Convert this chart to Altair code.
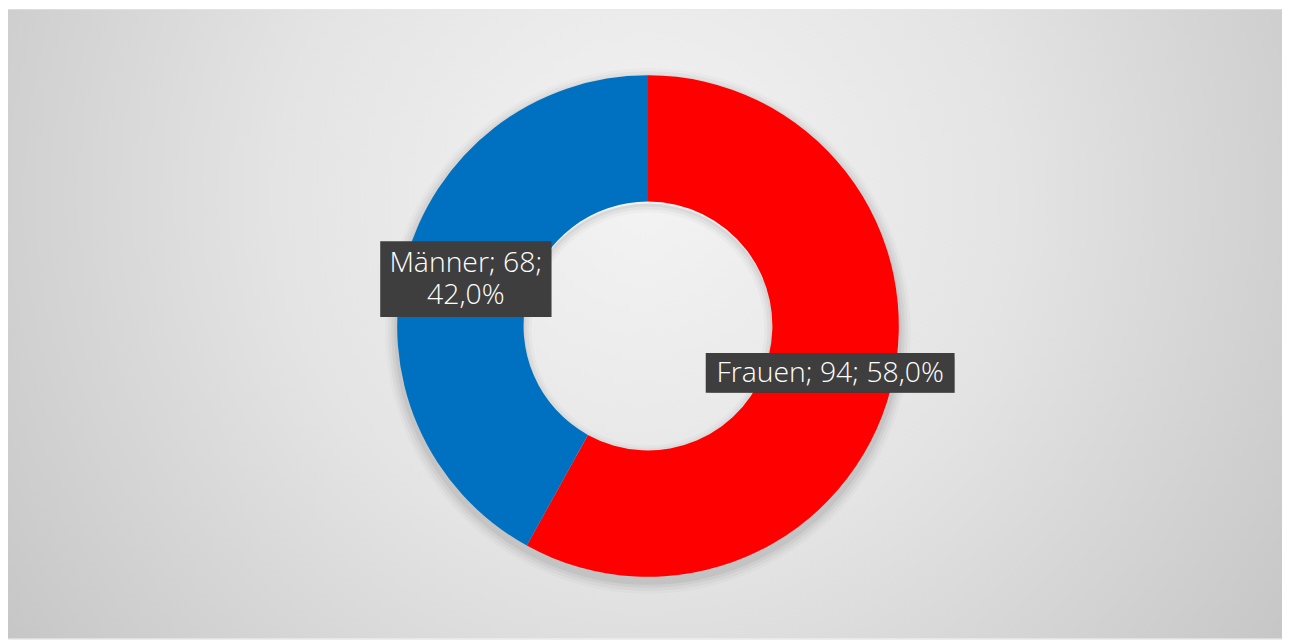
import math
import altair as alt
import pandas as pd

# ---- data ----
categories = ["Frauen", "Männer"]
values = [94, 68]
colors = ["#FF0000", "#0070C0"]

total = sum(values)
pct = [f"{v / total * 100:.1f}".replace(".", ",") + "%" for v in values]
labels = [
    [f"{categories[0]}; {values[0]}; {pct[0]}"],
    [f"{categories[1]}; {values[1]};", pct[1]],
]

# ---- layout / style constants ----
W, H = 1280, 632
CX, CY = 643, 318
R_OUT, R_IN = 252, 125
R_LABEL = 189
LINE_H = 32
box_size = {"Frauen": (250, 40), "Männer": (172, 76)}
FULL = 2 * math.pi

df = pd.DataFrame({
    "category": categories,
    "value": values,
    "order": list(range(len(categories))),
    "label": labels,
    "bw": [box_size[c][0] for c in categories],
    "bh": [box_size[c][1] for c in categories],
})

base = alt.Chart(df)
one = pd.DataFrame({"a": [0]})

bg = alt.Chart(one).mark_rect(
    color=alt.RadialGradient(
        gradient="radial",
        stops=[
            alt.GradientStop(color="#f3f3f3", offset=0),
            alt.GradientStop(color="#e4e4e4", offset=0.4),
            alt.GradientStop(color="#bcbcbc", offset=1),
        ],
        x1=0.5, y1=0.4, x2=0.5, y2=0.4, r1=0, r2=0.72,
    )
).encode(x=alt.value(0), x2=alt.value(W), y=alt.value(0), y2=alt.value(H))

shadow_layers = []
for k, op in [(12, 0.02), (9, 0.03), (6, 0.04), (3, 0.05)]:
    shadow_layers.append(
        alt.Chart(one).mark_arc(
            outerRadius=R_OUT + k, innerRadius=R_IN + 20, color="#000000", opacity=op,
            theta=0, theta2=FULL,
        ).encode(x=alt.value(CX), y=alt.value(CY + 5))
    )
# inset shadow of the hole
for k, op in [(8, 0.025), (5, 0.035), (2, 0.045)]:
    shadow_layers.append(
        alt.Chart(one).mark_arc(
            outerRadius=R_IN + 1, innerRadius=R_IN - k, color="#000000", opacity=op,
            theta=0, theta2=FULL,
        ).encode(x=alt.value(CX), y=alt.value(CY + 3))
    )

arcs = base.mark_arc(outerRadius=R_OUT, innerRadius=R_IN).encode(
    theta=alt.Theta("value:Q", stack=True),
    color=alt.Color("category:N", scale=alt.Scale(domain=categories, range=colors), legend=None),
    order=alt.Order("order:Q"),
    x=alt.value(CX),
    y=alt.value(CY),
)

pos = base.transform_joinaggregate(
    tot="sum(value)"
).transform_window(
    cum="sum(value)", sort=[alt.SortField("order")], frame=[None, 0]
).transform_calculate(
    mid="(datum.cum - datum.value / 2) / datum.tot * 2 * PI",
).transform_calculate(
    lx=f"{CX} + {R_LABEL} * sin(datum.mid)",
    ly=f"{CY} - {R_LABEL} * cos(datum.mid)",
).transform_calculate(
    x1="datum.lx - datum.bw / 2",
    x2="datum.lx + datum.bw / 2",
    y1="datum.ly - datum.bh / 2",
    y2="datum.ly + datum.bh / 2",
    ty=f"datum.ly - (length(datum.label) - 1) * {LINE_H} / 2",
)

box_shadows = []
for d, op in [(6, 0.06), (5, 0.08), (4, 0.1), (3, 0.12)]:
    box_shadows.append(
        pos.mark_rect(color="#000000", opacity=op).encode(
            x=alt.X("x1:Q", scale=None, axis=None),
            x2="x2:Q",
            y=alt.Y("y1:Q", scale=None, axis=None),
            y2="y2:Q",
            xOffset=alt.value(d),
            yOffset=alt.value(d),
        )
    )

boxes = pos.mark_rect(color="#3e3e3e").encode(
    x=alt.X("x1:Q", scale=None, axis=None),
    x2="x2:Q",
    y=alt.Y("y1:Q", scale=None, axis=None),
    y2="y2:Q",
)

texts = pos.mark_text(
    color="#ffffff", fontSize=28.5, font="Open Sans", fontWeight=300, lineHeight=LINE_H,
    align="center", baseline="middle",
).encode(
    x=alt.X("lx:Q", scale=None, axis=None),
    y=alt.Y("ty:Q", scale=None, axis=None),
    text="label",
)

chart = alt.layer(bg, *shadow_layers, arcs, *box_shadows, boxes, texts).properties(
    width=W, height=H, padding=0, autosize=alt.AutoSizeParams(type="none")
).configure_view(stroke=None).configure(background="#ffffff")

chart.save("out.html", embed_options={"renderer": "svg", "actions": False})
